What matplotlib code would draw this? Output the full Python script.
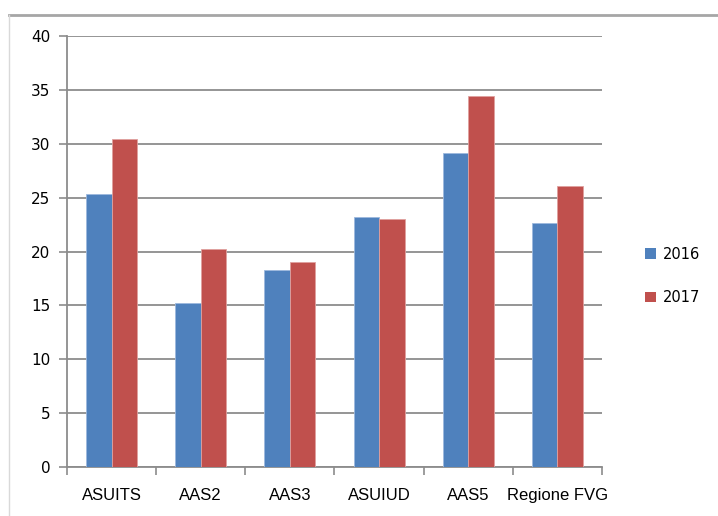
import numpy as np
import matplotlib.pyplot as plt
from matplotlib.patches import Patch
from matplotlib.lines import Line2D

categories = ["ASUITS", "AAS2", "AAS3", "ASUIUD", "AAS5", "Regione FVG"]
values_2016 = [25.3, 15.2, 18.3, 23.2, 29.1, 22.6]
values_2017 = [30.4, 20.2, 19.0, 23.0, 34.4, 26.1]
series_labels = ["2016", "2017"]
y_ticks = [0, 5, 10, 15, 20, 25, 30, 35, 40]

BLUE = "#4F81BD"
RED = "#C0504D"
GRID = "#8c8c8c"

W, H = 718, 516
fig = plt.figure(figsize=(W / 100, H / 100), dpi=100)

# plot area in pixel coords
left, right, top, bottom = 67, 602, 36, 467
ax = fig.add_axes([left / W, 1 - bottom / H, (right - left) / W, (bottom - top) / H])

x = np.arange(len(categories))
bw = 1 / 3.5
ax.bar(x - bw / 2, values_2016, bw, color=BLUE, edgecolor="#9db9dd", linewidth=0.6, zorder=3)
ax.bar(x + bw / 2, values_2017, bw, color=RED, edgecolor="#e0a09e", linewidth=0.6, zorder=3)

ax.set_xlim(-0.5, len(categories) - 0.5)
ax.set_ylim(0, 40)
ax.set_yticks(y_ticks)
ax.set_yticklabels([str(t) for t in y_ticks], fontsize=11, family="DejaVu Sans")
ax.yaxis.grid(True, color=GRID, linewidth=1.3, zorder=0)

# category ticks sit on the group boundaries, labels in the middle
ax.set_xticks(np.arange(len(categories) + 1) - 0.5)
ax.set_xticklabels([])
ax.set_xticks(x, minor=True)
ax.set_xticklabels(categories, minor=True, fontsize=12, family="Liberation Sans")
ax.tick_params(axis="x", which="minor", length=0, pad=15)
ax.tick_params(axis="x", which="major", length=6, color=GRID, width=1.2)
ax.tick_params(axis="y", length=6, color=GRID, width=1.2, pad=6)

for side in ["top", "right"]:
    ax.spines[side].set_visible(False)
for side in ["left", "bottom"]:
    ax.spines[side].set_color(GRID)
    ax.spines[side].set_linewidth(1.3)

handles = [Patch(facecolor=BLUE), Patch(facecolor=RED)]
fig.legend(handles, series_labels, loc="center left",
           bbox_to_anchor=(632 / W, 1 - 276 / H), frameon=False,
           prop={"family": "DejaVu Sans", "size": 10.5},
           handlelength=0.75, handleheight=0.75, handletextpad=0.5,
           labelspacing=1.95)

# chart frame edges
fig.add_artist(Line2D([9 / W, 1], [1 - 15 / H, 1 - 15 / H], color="#a6a6a6", linewidth=2))
fig.add_artist(Line2D([9 / W, 9 / W], [0, 1 - 15 / H], color="#d9d9d9", linewidth=1))

fig.savefig("out.png", dpi=100)
